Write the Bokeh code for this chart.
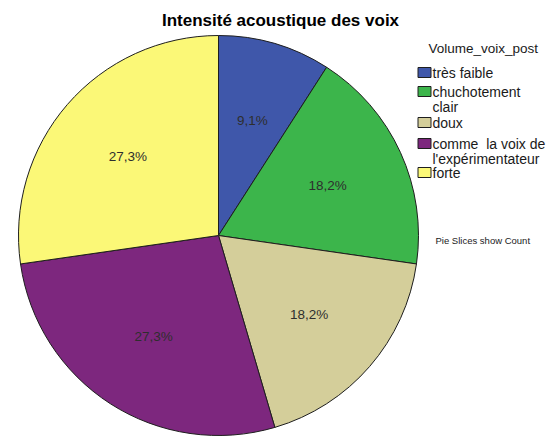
import numpy as np
from bokeh.plotting import figure
from bokeh.models import Range1d, ColumnDataSource
from bokeh.core.properties import value
from bokeh.embed import file_html
from bokeh.resources import INLINE

# ---- data ----
categories = ["très faible", "chuchotement clair", "doux",
              "comme  la voix de l'expérimentateur", "forte"]
legend_labels = ["très faible", "chuchotement\nclair", "doux",
                 "comme\u00a0 la voix de\nl'expérimentateur", "forte"]
counts = [1, 2, 2, 3, 3]
colors = ["#3f57aa", "#3cb54b", "#d4ce9a", "#7d277e", "#fbf877"]
title_text = "Intensité acoustique des voix"
legend_title = "Volume_voix_post"
note_text = "Pie Slices show Count"

# ---- layout ----
W, H = 552, 436
FONT = value("Liberation Sans")


def px(x):
    return x


def py(y):
    return H - y


p = figure(width=W, height=H, x_range=Range1d(0, W), y_range=Range1d(0, H),
           output_backend="svg", toolbar_location=None, min_border=0,
           x_axis_type=None, y_axis_type=None)
p.grid.visible = False
p.outline_line_color = None
p.background_fill_color = "white"
p.border_fill_color = "white"

cx, cy, R = px(218), py(235), 200

c = np.array(counts, dtype=float)
frac = c / c.sum()
cum = np.cumsum(frac)
start = np.pi / 2 - 2 * np.pi * (cum - frac)
end = np.pi / 2 - 2 * np.pi * cum
mid = (start + end) / 2
pct = [f"{f * 100:.1f}%".replace(".", ",") for f in frac]

src = ColumnDataSource(dict(cat=categories, start=start, end=end, color=colors,
                            lx=cx + 0.6 * R * np.cos(mid),
                            ly=cy + 0.6 * R * np.sin(mid), pct=pct))

p.wedge(x=cx, y=cy, radius=R, start_angle="start", end_angle="end",
        direction="clock", fill_color="color", line_color="#1e1e1e",
        line_width=1, source=src)

p.text(x="lx", y="ly", text="pct", source=src, text_font=FONT,
       text_font_size="13.5px", text_color="#2e2e2e", text_align="center",
       text_baseline="middle")

# title
p.text(x=[px(280)], y=[py(20)], text=[title_text], text_font=FONT,
       text_font_style="bold", text_font_size="17px", text_color="black",
       text_align="center", text_baseline="middle")

# legend
p.text(x=[px(428)], y=[py(48)], text=[legend_title], text_font=FONT,
       text_font_size="13.5px", text_color="#1a1a1a", text_align="left",
       text_baseline="middle")

item_y = [72, 91, 122, 143, 172]
leg = ColumnDataSource(dict(
    sx=[px(424)] * 5,
    sy=[py(y) for y in item_y],
    tx=[px(432)] * 5,
    ty=[py(y - 7.5) for y in item_y],
    lab=legend_labels, color=colors))
p.rect(x="sx", y="sy", width=13, height=10, fill_color="color",
       line_color="#1e1e1e", line_width=1, source=leg)
p.text(x="tx", y="ty", text="lab", source=leg, text_font=FONT,
       text_font_size="14px", text_color="#1a1a1a", text_align="left",
       text_baseline="top", text_line_height=0.95)

p.text(x=[px(435)], y=[py(240)], text=[note_text], text_font=FONT,
       text_font_size="9.5px", text_color="#1a1a1a", text_align="left",
       text_baseline="middle")

open("out.html", "w").write(file_html(p, INLINE))
